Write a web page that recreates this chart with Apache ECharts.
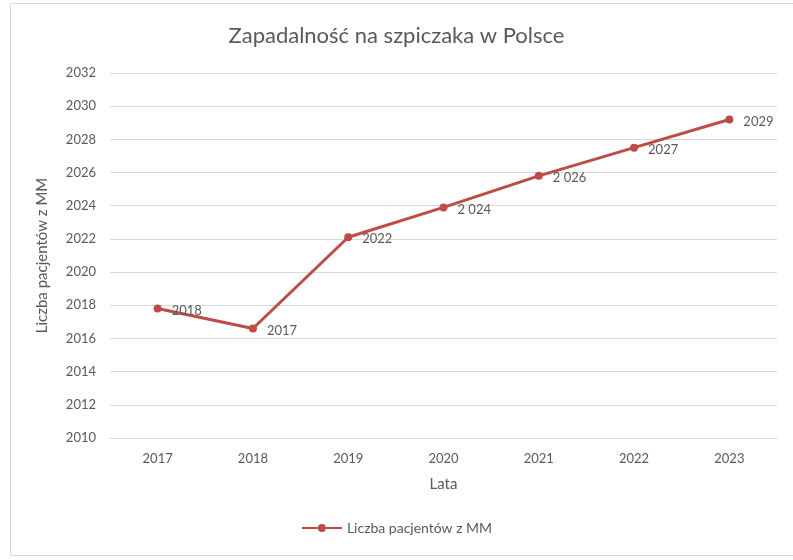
<!DOCTYPE html>
<html><head><meta charset="utf-8">
<script src="https://cdn.jsdelivr.net/npm/echarts@6/dist/echarts.min.js"></script>
<style>html,body{margin:0;padding:0;background:#fff}#c{width:793px;height:560px}</style>
</head><body><div id="c"></div>
<script>
const years = ['2017','2018','2019','2020','2021','2022','2023'];
const patients = [2017.8, 2016.6, 2022.1, 2023.9, 2025.8, 2027.5, 2029.2];
const pointLabels = ['2018','2017','2022','2 024','2 026','2027','2029'];
const seriesName = 'Liczba pacjentów z MM';

const chart = echarts.init(document.getElementById('c'));
const txt = '#595959';
const font = 'Lato, "Noto Sans", sans-serif';
chart.setOption({
  backgroundColor: '#fff',
  textStyle: {fontFamily: font},
  graphic: [{type:'rect', shape:{x:10.5, y:3.5, width:790, height:552}, style:{fill:'none', stroke:'#d9d9d9', lineWidth:1}, silent:true}],
  title: {text:'Zapadalność na szpiczaka w Polsce', left:'center', top:20,
    textStyle:{fontFamily:font, fontSize:22, fontWeight:'normal', color:txt}},
  legend: {bottom:20, left:'center', itemWidth:40, itemHeight:10,
    textStyle:{fontFamily:font, fontSize:14, color:txt}, data:[seriesName]},
  grid: {left:110, right:16, top:73, bottom:122},
  xAxis: {type:'category', data:years, boundaryGap:true, name:'Lata', nameLocation:'middle', nameGap:39,
    nameTextStyle:{fontFamily:font, fontSize:15, color:txt},
    axisLine:{lineStyle:{color:'#d9d9d9'}}, axisTick:{show:false},
    axisLabel:{fontFamily:font, fontSize:13, color:txt, margin:14}},
  yAxis: {type:'value', min:2010, max:2032, interval:2, name:seriesName, nameLocation:'middle', nameGap:60,
    nameTextStyle:{fontFamily:font, fontSize:15, color:txt},
    axisLine:{show:false}, axisTick:{show:false},
    axisLabel:{fontFamily:font, fontSize:13, color:txt, margin:14, formatter:(v)=>String(v)},
    splitLine:{lineStyle:{color:'#d9d9d9'}}},
  series: [{name:seriesName, type:'line', data:patients, symbol:'circle', symbolSize:8,
    lineStyle:{color:'#be4b48', width:3}, itemStyle:{color:'#be4b48'},
    label:{show:true, position:'right', distance:10, offset:[0,2], fontFamily:font, fontSize:13, color:txt,
      formatter:(p)=>pointLabels[p.dataIndex]}}]
});
</script></body></html>
